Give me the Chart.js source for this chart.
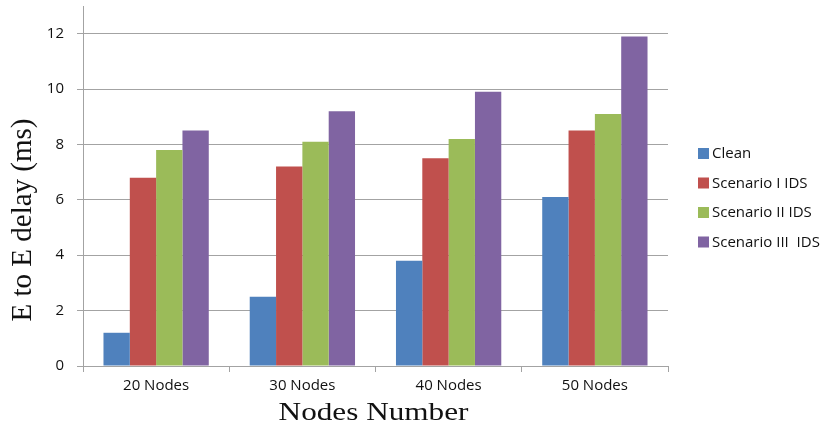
<!DOCTYPE html>
<html>
<head>
<meta charset="utf-8">
<title>E to E delay by node count</title>
<script src="https://cdn.jsdelivr.net/npm/chart.js@4/dist/chart.umd.min.js"></script>
<style>
  html, body { margin: 0; padding: 0; background: #ffffff; }
  #wrap { width: 824px; height: 426px; }
</style>
</head>
<body>
<div id="wrap"><canvas id="chart" width="824" height="426"></canvas></div>
<script>
// Node counts on the category axis
const categories = ['20 Nodes', '30 Nodes', '40 Nodes', '50 Nodes'];

// End-to-end delay (ms) per scenario
const clean       = [1.2, 2.5, 3.8, 6.1];
const scenarioI   = [6.8, 7.2, 7.5, 8.5];
const scenarioII  = [7.8, 8.1, 8.2, 9.1];
const scenarioIII = [8.5, 9.2, 9.9, 11.9];

const seriesNames = ['Clean', 'Scenario I IDS', 'Scenario II IDS', 'Scenario III  IDS'];
const yTicks = [0, 2, 4, 6, 8, 10, 12];

const xTitle = 'Nodes Number';
const yTitle = 'E to E delay (ms)';

const colors = ['#4f81bd', '#c0504d', '#9bbb59', '#8064a2'];
const gridColor = '#a3a3a3';
const labelFont = { family: '"Open Sans", "DejaVu Sans", sans-serif', size: 15 };

const seriesValues = [clean, scenarioI, scenarioII, scenarioIII];

// Legend drawn to the right of the plot, one row per series
const sideLegend = {
  id: 'sideLegend',
  afterDraw(chart) {
    const ctx = chart.ctx;
    const x0 = chart.chartArea.right + 30;
    const yStart = 153;
    const rowGap = 29.5;
    ctx.save();
    ctx.font = '15px "Open Sans", "DejaVu Sans", sans-serif';
    ctx.textBaseline = 'middle';
    ctx.textAlign = 'left';
    chart.data.datasets.forEach((ds, i) => {
      const y = yStart + i * rowGap;
      ctx.fillStyle = ds.backgroundColor;
      ctx.fillRect(x0, y - 5, 11, 11);
      ctx.fillStyle = '#111111';
      ctx.fillText(ds.label, x0 + 14, y + 1);
    });
    ctx.restore();
  }
};

// Rotated serif title for the value axis
const valueAxisTitle = {
  id: 'valueAxisTitle',
  afterDraw(chart) {
    const ctx = chart.ctx;
    ctx.save();
    ctx.translate(23, 220);
    ctx.rotate(-Math.PI / 2);
    ctx.font = '29px "Liberation Serif", "DejaVu Serif", serif';
    ctx.fillStyle = '#111111';
    ctx.textAlign = 'center';
    ctx.textBaseline = 'middle';
    ctx.fillText(yTitle, 0, 0);
    ctx.restore();
  }
};

// Serif title under the category axis
const categoryAxisTitle = {
  id: 'categoryAxisTitle',
  afterDraw(chart) {
    const ctx = chart.ctx;
    const cx = (chart.chartArea.left + chart.chartArea.right) / 2;
    ctx.save();
    ctx.translate(cx - 2, 420);
    ctx.scale(1.2, 1);
    ctx.font = '26px "Liberation Serif", "DejaVu Serif", serif';
    ctx.fillStyle = '#111111';
    ctx.textAlign = 'center';
    ctx.textBaseline = 'alphabetic';
    ctx.fillText(xTitle, 0, 0);
    ctx.restore();
  }
};

new Chart(document.getElementById('chart'), {
  type: 'bar',
  data: {
    labels: categories,
    datasets: seriesValues.map((vals, i) => ({
      label: seriesNames[i],
      data: vals,
      backgroundColor: colors[i],
      borderWidth: 0,
      barPercentage: 1.0,
      categoryPercentage: 0.72
    }))
  },
  options: {
    responsive: false,
    animation: false,
    devicePixelRatio: 1,
    layout: { padding: { top: 6, right: 156, left: 0, bottom: 0 } },
    plugins: {
      legend: { display: false },
      tooltip: { enabled: false },
      title: { display: false }
    },
    scales: {
      x: {
        grid: {
          display: true,
          drawOnChartArea: false,
          drawTicks: true,
          tickLength: 6,
          color: gridColor,
          offset: true
        },
        border: { display: true, color: gridColor, width: 1 },
        ticks: {
          font: labelFont,
          color: '#111111',
          padding: 5,
          maxRotation: 0
        },
        afterFit(scale) {
          scale.height = 60;
          scale.paddingLeft = 0;
          scale.paddingRight = 0;
        }
      },
      y: {
        min: 0,
        max: 13,
        grid: {
          color: gridColor,
          lineWidth: 1,
          tickLength: 6,
          drawTicks: true
        },
        border: { display: true, color: gridColor, width: 1 },
        ticks: {
          stepSize: 2,
          font: labelFont,
          color: '#111111',
          padding: 13
        },
        afterBuildTicks(scale) {
          scale.ticks = yTicks.map(v => ({ value: v }));
        },
        afterFit(scale) {
          scale.width = 83;
          scale.paddingTop = 0;
          scale.paddingBottom = 0;
        }
      }
    }
  },
  plugins: [sideLegend, valueAxisTitle, categoryAxisTitle]
});
</script>
</body>
</html>
